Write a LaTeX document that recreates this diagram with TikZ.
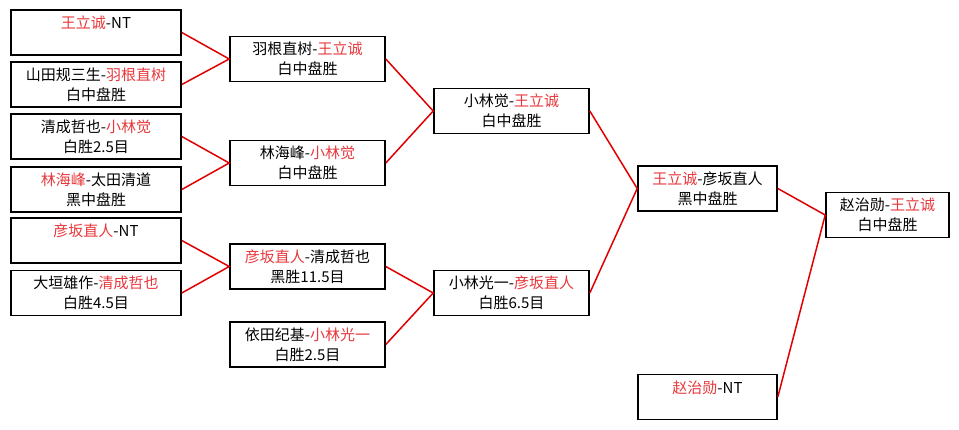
\documentclass[tikz,border=0pt]{standalone}
\usepackage{fontspec}
\setmainfont{Noto Sans CJK SC}
\definecolor{winred}{HTML}{E8383D}
\definecolor{linkred}{HTML}{E00000}
\newcommand{\win}[1]{\textcolor{winred}{#1}}
\begin{document}
\begin{tikzpicture}[x=1pt,y=-1pt,
    every node/.style={font=\fontsize{15}{20}\selectfont},
    box/.style={draw,line width=1.6pt,fill=white,minimum height=45pt,inner sep=0pt,align=center,
        execute at begin node=\rule{0pt}{17pt}},
    link/.style={linkred,line width=1.5pt}]
    \useasboundingbox (0,0) rectangle (959,429);
    \node[box,minimum width=170pt] (wangnt) at (96,32.5) {\win{王立诚}-NT\\~};
    \node[box,minimum width=170pt] (yamada) at (96,84.5) {山田规三生-\win{羽根直树}\\白中盘胜};
    \node[box,minimum width=170pt] (kiyonari) at (96,136.5) {清成哲也-\win{小林觉}\\白胜2.5目};
    \node[box,minimum width=170pt] (ota) at (96,189.5) {\win{林海峰}-太田清道\\黑中盘胜};
    \node[box,minimum width=170pt] (hikont) at (96,240.5) {\win{彦坂直人}-NT\\~};
    \node[box,minimum width=170pt] (ogaki) at (96,293) {大垣雄作-\win{清成哲也}\\白胜4.5目};
    \node[box,minimum width=155pt] (hane) at (307.5,59) {羽根直树-\win{王立诚}\\白中盘胜};
    \node[box,minimum width=155pt] (rin) at (307.5,163) {林海峰-\win{小林觉}\\白中盘胜};
    \node[box,minimum width=155pt] (hiko) at (307.5,266.5) {\win{彦坂直人}-清成哲也\\黑胜11.5目};
    \node[box,minimum width=155pt] (yoda) at (307.5,344.5) {依田纪基-\win{小林光一}\\白胜2.5目};
    \node[box,minimum width=155pt] (satoru) at (511.5,111) {小林觉-\win{王立诚}\\白中盘胜};
    \node[box,minimum width=155pt] (koichi) at (511.5,293) {小林光一-\win{彦坂直人}\\白胜6.5目};
    \node[box,minimum width=139pt] (semi) at (707.5,188.5) {\win{王立诚}-彦坂直人\\黑中盘胜};
    \node[box,minimum width=139pt] (chont) at (707.5,397) {\win{赵治勋}-NT\\~};
    \node[box,minimum width=123pt] (final) at (887.5,215) {赵治勋-\win{王立诚}\\白中盘胜};
    \draw[link] (wangnt.east) -- (hane.west) -- (yamada.east);
    \draw[link] (kiyonari.east) -- (rin.west) -- (ota.east);
    \draw[link] (hikont.east) -- (hiko.west) -- (ogaki.east);
    \draw[link] (hane.east) -- (satoru.west) -- (rin.east);
    \draw[link] (hiko.east) -- (koichi.west) -- (yoda.east);
    \draw[link] (satoru.east) -- (semi.west) -- (koichi.east);
    \draw[link] (semi.east) -- (final.west) -- (chont.east);
\end{tikzpicture}
\end{document}
